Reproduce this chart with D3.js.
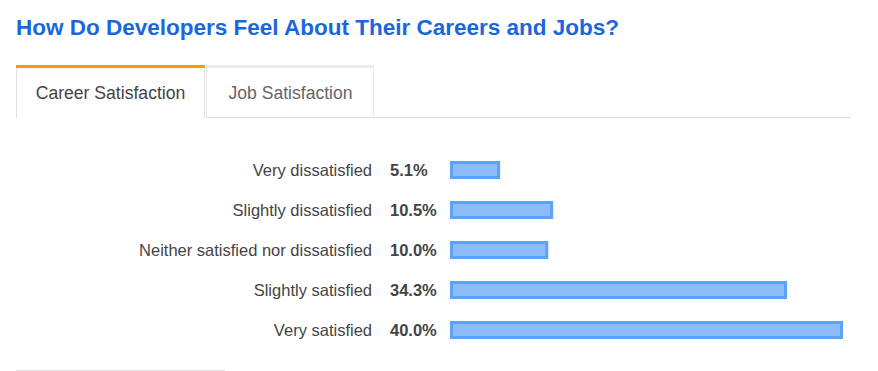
<!DOCTYPE html>
<html><head><meta charset="utf-8">
<script src="https://cdn.jsdelivr.net/npm/d3@7/dist/d3.min.js"></script>
<style>
html,body{margin:0;padding:0;background:#fff;}
svg{display:block;font-family:"Liberation Sans",Arial,sans-serif;}
</style></head>
<body>
<svg id="chart" width="878" height="371"></svg>
<script>
const title = "How Do Developers Feel About Their Careers and Jobs?";
const tabs = ["Career Satisfaction", "Job Satisfaction"];
const categories = ["Very dissatisfied", "Slightly dissatisfied", "Neither satisfied nor dissatisfied", "Slightly satisfied", "Very satisfied"];
const values = [5.1, 10.5, 10.0, 34.3, 40.0];

const svg = d3.select("#chart");

svg.append("text").attr("x", 16).attr("y", 35)
  .attr("font-size", 22.5).attr("font-weight", "bold").attr("fill", "#1a66dc")
  .text(title);

// tabs
const g = svg.append("g");
g.append("line").attr("x1", 206).attr("x2", 851).attr("y1", 117.5).attr("y2", 117.5)
  .attr("stroke", "#dddddd").attr("stroke-width", 1);
g.append("path").attr("d", "M16.5,67 V118 M204.5,67 V118").attr("stroke", "#e2e2e2").attr("fill", "none");
g.append("line").attr("x1", 16).attr("x2", 205).attr("y1", 66.5).attr("y2", 66.5)
  .attr("stroke", "#ff9900").attr("stroke-width", 3);
g.append("path").attr("d", "M206.5,67 V118 M373.5,67 V118").attr("stroke", "#e8e8ee").attr("fill", "none");
g.append("line").attr("x1", 206).attr("x2", 374).attr("y1", 66.5).attr("y2", 66.5)
  .attr("stroke", "#ececf0").attr("stroke-width", 3);
g.selectAll("text.tab").data(tabs).join("text").attr("class", "tab")
  .attr("x", (d, i) => i === 0 ? 110.5 : 290.5)
  .attr("y", 99).attr("text-anchor", "middle")
  .attr("font-size", 17.6).attr("fill", (d, i) => i === 0 ? "#444" : "#666")
  .text(d => d);

// bars
const x = d3.scaleLinear().domain([0, 40]).range([0, 393]);
const y = d3.scaleBand().domain(categories).range([150, 350]).paddingInner(0.55).paddingOuter(0.275);

const rows = svg.append("g").selectAll("g").data(categories).join("g");
rows.append("text").attr("x", 372).attr("y", d => y(d) + y.bandwidth() / 2)
  .attr("dy", "0.36em").attr("text-anchor", "end").attr("font-size", 16.5).attr("fill", "#444")
  .text(d => d);
rows.append("text").attr("x", 390).attr("y", d => y(d) + y.bandwidth() / 2)
  .attr("dy", "0.36em").attr("font-size", 16.5).attr("font-weight", "bold").attr("fill", "#444")
  .text((d, i) => values[i].toFixed(1) + "%");
rows.append("rect")
  .attr("x", 451.5).attr("y", d => y(d) + 1.5)
  .attr("width", (d, i) => x(values[i]) - 3).attr("height", y.bandwidth() - 3)
  .attr("fill", "#8cbdfa").attr("stroke", "#5aa3f8").attr("stroke-width", 3);

svg.append("line").attr("x1", 16).attr("x2", 225).attr("y1", 370.5).attr("y2", 370.5)
  .attr("stroke", "#dddddd");
</script>
</body></html>
